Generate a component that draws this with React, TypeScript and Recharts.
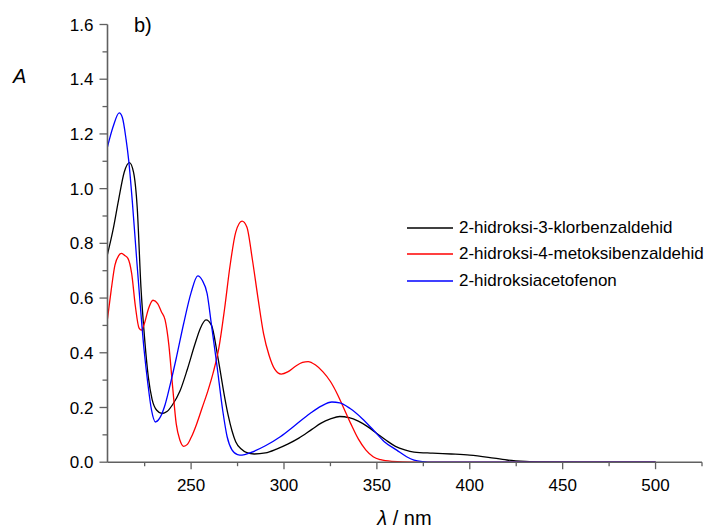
import { LineChart, Line, XAxis, YAxis, Legend, Label } from "recharts";

// wavelength (nm) / absorbance pairs
const blackLambda = [205, 208, 211, 214, 216.8, 219, 221, 223, 225, 227, 229, 231.5, 234.4, 237, 240, 244, 248, 252, 255, 258, 261, 264, 266, 268, 270, 272, 274, 277, 280, 284, 290, 296, 302, 308, 315, 320, 325, 330, 335, 340, 345, 350, 355, 360, 365, 370, 380, 390, 400, 410, 420, 430, 440, 460, 500];
const blackAbs = [0.76, 0.85, 0.96, 1.06, 1.095, 1.06, 0.93, 0.64, 0.45, 0.31, 0.23, 0.19, 0.178, 0.185, 0.21, 0.26, 0.34, 0.43, 0.49, 0.52, 0.5, 0.4, 0.32, 0.24, 0.17, 0.115, 0.075, 0.048, 0.035, 0.03, 0.034, 0.048, 0.066, 0.088, 0.12, 0.143, 0.158, 0.167, 0.163, 0.15, 0.13, 0.105, 0.08, 0.058, 0.045, 0.037, 0.033, 0.03, 0.026, 0.018, 0.008, 0.003, 0.001, 0, 0];

const redLambda = [205, 207, 209, 211, 212.5, 214, 216, 218, 220, 222, 223.3, 225, 227, 229.5, 232, 234, 236, 238, 240, 242, 244, 246, 248, 250, 253, 256, 259, 262, 265, 268, 271, 274, 277.4, 280, 283, 286, 289, 292, 295, 298.5, 302, 306, 310, 313, 317, 321, 325, 329, 332, 336, 340, 344, 348, 352, 358, 370, 400, 500];
const redAbs = [0.525, 0.63, 0.72, 0.755, 0.763, 0.757, 0.745, 0.69, 0.57, 0.49, 0.483, 0.51, 0.56, 0.592, 0.58, 0.55, 0.52, 0.43, 0.28, 0.14, 0.08, 0.058, 0.065, 0.09, 0.14, 0.2, 0.26, 0.33, 0.42, 0.56, 0.72, 0.84, 0.881, 0.86, 0.74, 0.6, 0.47, 0.39, 0.34, 0.322, 0.33, 0.35, 0.365, 0.368, 0.355, 0.33, 0.295, 0.245, 0.2, 0.14, 0.085, 0.045, 0.02, 0.009, 0.003, 0, 0, 0];

const blueLambda = [205, 208, 211.3, 213, 215, 216.4, 218.3, 220.5, 222.7, 224.7, 226.7, 228.7, 230.8, 233, 236, 238.9, 242, 246, 250, 253.6, 256, 258.6, 261, 264, 267, 269.4, 272, 275, 277.4, 282, 290, 298, 306, 314, 320, 325.8, 330, 335.6, 342, 348.2, 354, 360.7, 366, 370, 375, 380, 500];
const blueAbs = [1.153, 1.226, 1.277, 1.26, 1.18, 1.104, 0.958, 0.76, 0.568, 0.41, 0.288, 0.19, 0.147, 0.16, 0.21, 0.288, 0.38, 0.507, 0.62, 0.681, 0.665, 0.617, 0.5, 0.349, 0.19, 0.093, 0.045, 0.028, 0.026, 0.035, 0.06, 0.093, 0.135, 0.178, 0.205, 0.22, 0.217, 0.196, 0.16, 0.117, 0.075, 0.044, 0.02, 0.008, 0.002, 0, 0];

const seriesNames = [
  "2-hidroksi-3-klorbenzaldehid",
  "2-hidroksi-4-metoksibenzaldehid",
  "2-hidroksiacetofenon",
];
const seriesColors = ["#000000", "#ff0000", "#0000ff"];

const xTicks = [225, 250, 275, 300, 325, 350, 375, 400, 425, 450, 475, 500, 525];
const xLabels = [250, 300, 350, 400, 450, 500];
const yTicks = [0, 0.1, 0.2, 0.3, 0.4, 0.5, 0.6, 0.7, 0.8, 0.9, 1.0, 1.1, 1.2, 1.3, 1.4, 1.5, 1.6];

const zip = (l: number[], a: number[]) => l.map((lambda, i) => ({ lambda, a: a[i] }));
const seriesData = [zip(blackLambda, blackAbs), zip(redLambda, redAbs), zip(blueLambda, blueAbs)];

const FONT = "Arial, 'Liberation Sans', sans-serif";
const AXIS = "#606060";

function YTick({ x, y, payload }: any) {
  const v = payload.value as number;
  const major = Math.round(v * 10) % 2 === 0;
  return (
    <g>
      <line x1={x} x2={x - (major ? 8 : 5)} y1={y} y2={y} stroke={AXIS} strokeWidth={1.3} />
      {major && (
        <text x={x - 14} y={y} dy="0.36em" textAnchor="end" fontSize={17} fontFamily={FONT} fill="#000">
          {v.toFixed(1)}
        </text>
      )}
    </g>
  );
}

function XTick({ x, y, payload }: any) {
  const v = payload.value as number;
  const major = xLabels.includes(v);
  return (
    <g>
      <line x1={x} x2={x} y1={y} y2={y + (major ? 7 : 4)} stroke={AXIS} strokeWidth={1.3} />
      {major && (
        <text x={x} y={y + 29} textAnchor="middle" fontSize={17} fontFamily={FONT} fill="#000">
          {v}
        </text>
      )}
    </g>
  );
}

function LegendBox() {
  return (
    <div style={{ fontFamily: FONT, fontSize: 17, color: "#000" }}>
      {seriesNames.map((name, i) => (
        <div key={name} style={{ display: "flex", alignItems: "center", height: 26.2, whiteSpace: "nowrap" }}>
          <svg width={52} height={4} style={{ display: "block" }}>
            <line x1={0} x2={46} y1={2} y2={2} stroke={seriesColors[i]} strokeWidth={1.3} />
          </svg>
          <span>{name}</span>
        </div>
      ))}
    </div>
  );
}

export default function App() {
  return (
    <div style={{ position: "absolute", left: 0, top: 0, width: 713, height: 530, background: "#fff" }}>
      <LineChart width={713} height={530} margin={{ top: 24.5, right: 11, bottom: 0, left: 0 }}>
        <XAxis
          type="number"
          dataKey="lambda"
          domain={[205, 525]}
          allowDataOverflow
          ticks={xTicks}
          interval={0}
          tick={<XTick />}
          tickLine={false}
          tickSize={0}
          tickMargin={0}
          height={67.8}
          stroke={AXIS}
          strokeWidth={1.6}
        >
          <Label
            content={() => (
              <text x={404.5} y={525} textAnchor="middle" fontSize={20} fontFamily={FONT} fill="#000">
                <tspan fontStyle="italic">λ</tspan>
                <tspan> / nm</tspan>
              </text>
            )}
          />
        </XAxis>
        <YAxis
          type="number"
          domain={[0, 1.6]}
          ticks={yTicks}
          interval={0}
          tick={<YTick />}
          tickLine={false}
          tickSize={0}
          tickMargin={0}
          width={107.5}
          stroke={AXIS}
          strokeWidth={1.6}
        >
          <Label
            content={() => (
              <g>
                <text x={13} y={83} fontSize={20} fontStyle="italic" fontFamily={FONT} fill="#000">
                  A
                </text>
                <text x={134} y={32} fontSize={20} fontFamily={FONT} fill="#000">
                  b)
                </text>
              </g>
            )}
          />
        </YAxis>
        <Legend
          layout="vertical"
          align="center"
          verticalAlign="middle"
          content={<LegendBox />}
          wrapperStyle={{ position: "absolute", left: 407, top: 215.2, width: "auto" }}
        />
        {seriesData.map((d, i) => (
          <Line
            key={seriesNames[i]}
            data={d}
            dataKey="a"
            name={seriesNames[i]}
            type="monotone"
            stroke={seriesColors[i]}
            strokeWidth={1.3}
            dot={false}
            activeDot={false}
            isAnimationActive={false}
          />
        ))}
      </LineChart>
    </div>
  );
}
